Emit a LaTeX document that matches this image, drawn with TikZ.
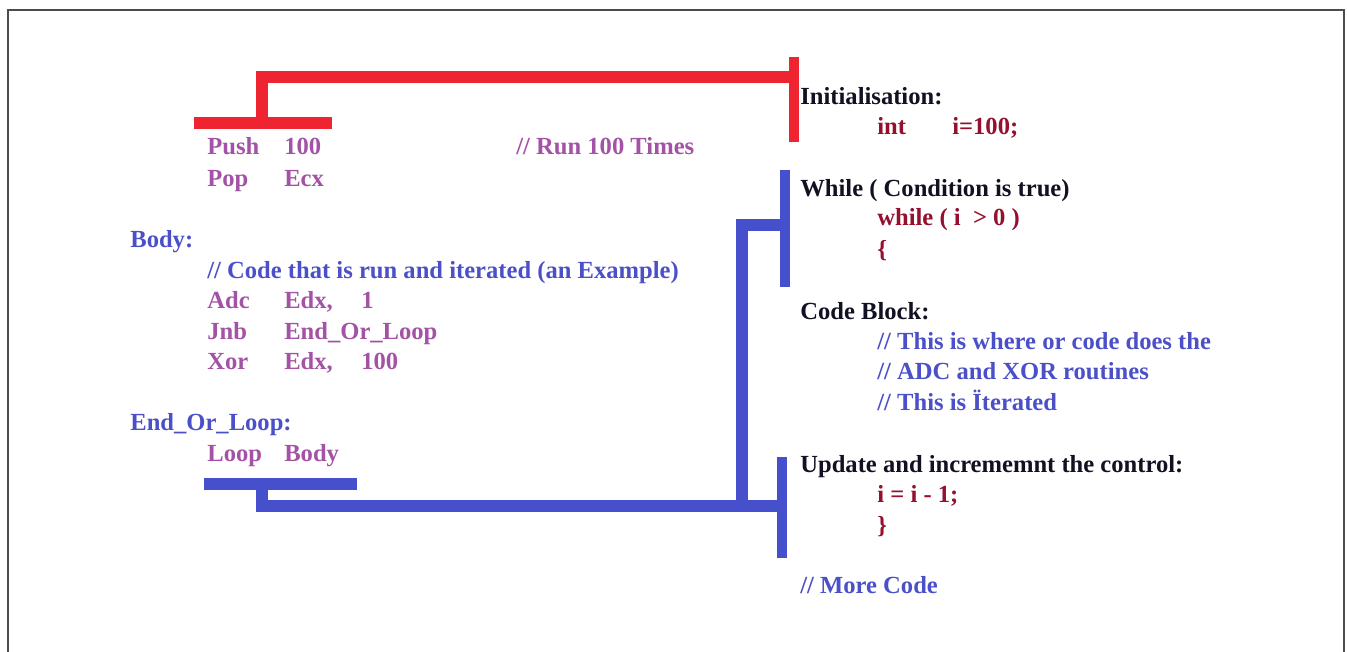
\documentclass[tikz,border=0pt]{standalone}
\usepackage{fontspec}
\setmainfont{Liberation Serif}
\definecolor{barred}{HTML}{EE2431}
\definecolor{barblue}{HTML}{4750CC}
\definecolor{asmpurple}{HTML}{A352A6}
\definecolor{cmtblue}{HTML}{4B50C8}
\definecolor{cdarkred}{HTML}{94102E}
\definecolor{labelblack}{HTML}{111122}
\newcommand{\tabcol}[2]{\makebox[1.54cm][l]{#1}#2}

\begin{document}
\begin{tikzpicture}[
      x=0.02cm, y=-0.02cm,
      codeline/.style={anchor=base west, inner sep=0pt, font=\bfseries\fontsize{14}{16}\selectfont, text=#1},
      redbar/.style={draw=barred, line width=6.8pt, line join=miter},
      bluebar/.style={draw=barblue, line width=6.8pt, line join=miter},
      sidebar/.style={line width=5.7pt}
  ]
    \useasboundingbox (0,0) rectangle (1347,652);
    \draw[gray!60!black, line width=1pt] (8,660) -- (8,10) -- (1344,10) -- (1344,660);

    % assembly side
    \node[codeline=asmpurple] (push) at (207,155) {\tabcol{Push}{100}};
    \node[codeline=asmpurple] (runcmt) at (516,155) {// Run 100 Times};
    \node[codeline=asmpurple] (pop) at (207,187) {\tabcol{Pop}{Ecx}};
    \node[codeline=cmtblue] (body) at (130,248) {Body:};
    \node[codeline=cmtblue] (bodycmt) at (207,278) {// Code that is run and iterated (an Example)};
    \node[codeline=asmpurple] (adc) at (207,308) {\tabcol{Adc}{\tabcol{Edx,}{1}}};
    \node[codeline=asmpurple] (jnb) at (207,339) {\tabcol{Jnb}{End\_Or\_Loop}};
    \node[codeline=asmpurple] (xor) at (207,369) {\tabcol{Xor}{\tabcol{Edx,}{100}}};
    \node[codeline=cmtblue] (endlbl) at (130,430) {End\_Or\_Loop:};
    \node[codeline=asmpurple] (loop) at (207,461) {\tabcol{Loop}{Body}};

    % C side
    \node[codeline=labelblack] (init) at (800,105) {Initialisation:};
    \node[codeline=cdarkred] (intdecl) at (877,135) {\makebox[1.5cm][l]{int}i=100;};
    \node[codeline=labelblack] (cond) at (800,196) {While ( Condition is true)};
    \node[codeline=cdarkred] (whilest) at (877,226) {while ( i \ > 0 )};
    \node[codeline=cdarkred] (lbrace) at (877,257) {\{};
    \node[codeline=labelblack] (block) at (800,319) {Code Block:};
    \node[codeline=cmtblue] (blockc1) at (877,349) {// This is where or code does the};
    \node[codeline=cmtblue] (blockc2) at (877,379) {// ADC and XOR routines};
    \node[codeline=cmtblue] (blockc3) at (877,410) {// This is Ïterated};
    \node[codeline=labelblack] (update) at (800,472) {Update and incrememnt the control:};
    \node[codeline=cdarkred] (decr) at (877,502) {i = i - 1;};
    \node[codeline=cdarkred] (rbrace) at (877,533) {\}};
    \node[codeline=cmtblue] (morecmt) at (800,593) {// More Code};

    % bar ends
    \coordinate (pushL) at (194,123);
    \coordinate (pushR) at (332,123);
    \coordinate (pushM) at (262,123);
    \coordinate (initT) at (794,57);
    \coordinate (initB) at (794,142);
    \coordinate (initM) at (794,77);
    \coordinate (loopL) at (204,484);
    \coordinate (loopR) at (357,484);
    \coordinate (loopM) at (262,484);
    \coordinate (whileT) at (785,170);
    \coordinate (whileB) at (785,287);
    \coordinate (whileM) at (785,225);
    \coordinate (updT) at (782,457);
    \coordinate (updB) at (782,558);
    \coordinate (updM) at (782,506);
    \coordinate (backM) at (742,506);

    % initialisation bracket
    \draw[redbar] (pushL) -- (pushR);
    \draw[redbar, sidebar] (initT) -- (initB);
    \draw[redbar] (pushM) |- (initM);

    % loop-back bracket
    \draw[bluebar] (loopL) -- (loopR);
    \draw[bluebar, sidebar] (whileT) -- (whileB);
    \draw[bluebar, sidebar] (updT) -- (updB);
    \draw[bluebar] (loopM) |- (updM);
    \draw[bluebar] (whileM) -| (backM);
\end{tikzpicture}
\end{document}
